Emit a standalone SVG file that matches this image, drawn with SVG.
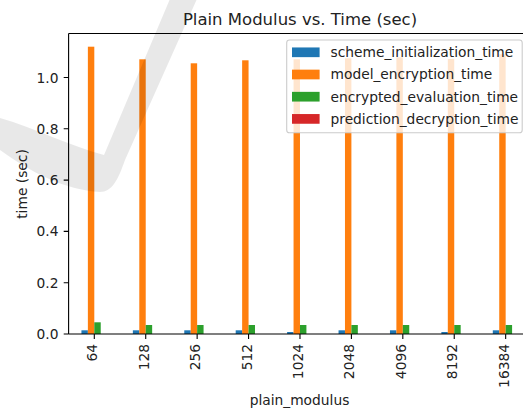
<svg xmlns="http://www.w3.org/2000/svg" width="523" height="410" viewBox="0 0 523 410">
<style>
text{font-family:"DejaVu Sans","Liberation Sans",sans-serif;fill:#222;}
.tk{font-size:13.8px;}
.yl{text-anchor:end;}
.xl{text-anchor:end;}
.b{fill:#1f77b4;}
.o{fill:#ff7f0e;}
.g{fill:#2ca02c;}
.r{fill:#d62728;}
.ax{stroke:#000;stroke-width:1.1;fill:none;}
</style>
<rect width="523" height="410" fill="#fff"/>
<g id="bars">
<rect class="b" x="81.44" y="330.3" width="6.43" height="3.7"/>
<rect class="o" x="87.87" y="46.7" width="6.43" height="287.3"/>
<rect class="g" x="94.30" y="322.3" width="6.43" height="11.7"/>
<rect class="b" x="132.86" y="330.3" width="6.43" height="3.7"/>
<rect class="o" x="139.29" y="59.3" width="6.43" height="274.7"/>
<rect class="g" x="145.72" y="325" width="6.43" height="9"/>
<rect class="b" x="184.28" y="330.3" width="6.43" height="3.7"/>
<rect class="o" x="190.71" y="63.3" width="6.43" height="270.7"/>
<rect class="g" x="197.14" y="325" width="6.43" height="9"/>
<rect class="b" x="235.70" y="330.3" width="6.43" height="3.7"/>
<rect class="o" x="242.13" y="60.3" width="6.43" height="273.7"/>
<rect class="g" x="248.56" y="325" width="6.43" height="9"/>
<rect class="b" x="287.12" y="332" width="6.43" height="2"/>
<rect class="o" x="293.55" y="59.3" width="6.43" height="274.7"/>
<rect class="g" x="299.98" y="325" width="6.43" height="9"/>
<rect class="b" x="338.54" y="330.3" width="6.43" height="3.7"/>
<rect class="o" x="344.97" y="58.3" width="6.43" height="275.7"/>
<rect class="g" x="351.40" y="325" width="6.43" height="9"/>
<rect class="b" x="389.96" y="330.3" width="6.43" height="3.7"/>
<rect class="o" x="396.39" y="57.3" width="6.43" height="276.7"/>
<rect class="g" x="402.82" y="325" width="6.43" height="9"/>
<rect class="b" x="441.38" y="332" width="6.43" height="2"/>
<rect class="o" x="447.81" y="59" width="6.43" height="275"/>
<rect class="g" x="454.24" y="325" width="6.43" height="9"/>
<rect class="b" x="492.80" y="330.3" width="6.43" height="3.7"/>
<rect class="o" x="499.23" y="54.3" width="6.43" height="279.7"/>
<rect class="g" x="505.66" y="325" width="6.43" height="9"/>
</g>
<g id="axes">
<path class="ax" d="M68.6,33.5H523M68.6,33.5V334M68.6,334H523"/>
<path class="ax" d="M63.7,334H68.6M63.7,282.7H68.6M63.7,231.4H68.6M63.7,180.1H68.6M63.7,128.8H68.6M63.7,77.5H68.6"/>
<path class="ax" d="M94.3,334V338.9M145.72,334V338.9M197.14,334V338.9M248.56,334V338.9M299.98,334V338.9M351.4,334V338.9M402.82,334V338.9M454.24,334V338.9M505.66,334V338.9"/>
</g>
<g id="yticks" class="tk yl">
<text x="58.5" y="339">0.0</text>
<text x="58.5" y="287.7">0.2</text>
<text x="58.5" y="236.4">0.4</text>
<text x="58.5" y="185.1">0.6</text>
<text x="58.5" y="133.8">0.8</text>
<text x="58.5" y="82.5">1.0</text>
</g>
<g id="xticks" class="tk xl">
<text transform="translate(97.3,344) rotate(-90)">64</text>
<text transform="translate(148.72,344) rotate(-90)">128</text>
<text transform="translate(200.14,344) rotate(-90)">256</text>
<text transform="translate(251.56,344) rotate(-90)">512</text>
<text transform="translate(302.98,344) rotate(-90)">1024</text>
<text transform="translate(354.4,344) rotate(-90)">2048</text>
<text transform="translate(405.82,344) rotate(-90)">4096</text>
<text transform="translate(457.24,344) rotate(-90)">8192</text>
<text transform="translate(508.66,344) rotate(-90)">16384</text>
</g>
<g id="labels">
<text x="300" y="24.5" font-size="16.5" text-anchor="middle">Plain Modulus vs. Time (sec)</text>
<text x="299.5" y="404.5" font-size="13.8" text-anchor="middle">plain_modulus</text>
<text transform="translate(27,184) rotate(-90)" font-size="13.8" text-anchor="middle">time (sec)</text>
</g>
<g id="legend">
<rect x="286.7" y="40" width="235.5" height="92.7" rx="2.8" fill="#fff" fill-opacity="0.8" stroke="#ccc" stroke-width="1.1"/>
<rect class="b" x="292" y="47.45" width="27.6" height="9.7"/>
<rect class="o" x="292" y="69.65" width="27.6" height="9.7"/>
<rect class="g" x="292" y="91.85" width="27.6" height="9.7"/>
<rect class="r" x="292" y="114.05" width="27.6" height="9.7"/>
<g class="tk">
<text x="330.5" y="57.1">scheme_initialization_time</text>
<text x="330.5" y="79.3">model_encryption_time</text>
<text x="330.5" y="101.5">encrypted_evaluation_time</text>
<text x="330.5" y="123.7">prediction_decryption_time</text>
</g>
</g>
<path id="watermark" d="M0,118 C35,128 70,146 104,155 L169.5,0 L196.5,0 L125,160 C118,180 112,192 100,192 C65,190 30,172 0,150 Z" fill="#000" fill-opacity="0.09"/>
</svg>
